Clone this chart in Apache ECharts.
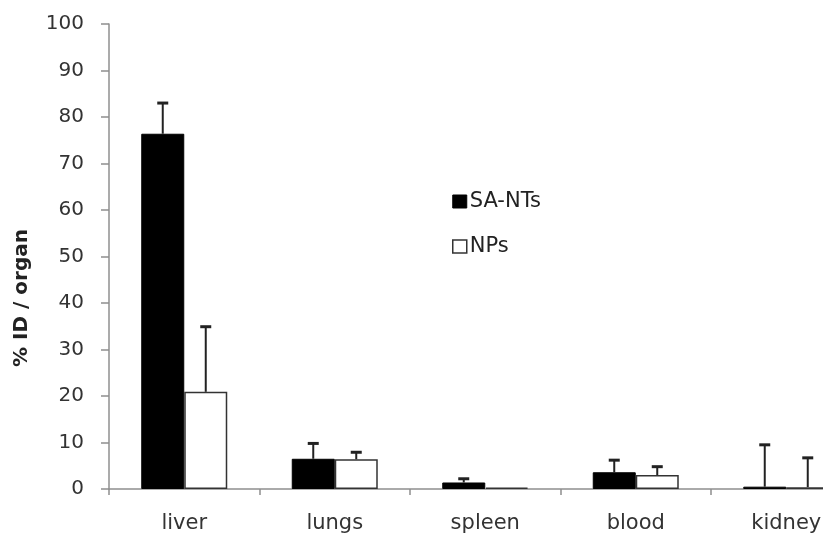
<!DOCTYPE html>
<html>
<head>
<meta charset="utf-8">
<script src="https://cdn.jsdelivr.net/npm/echarts@6/dist/echarts.min.js"></script>
<style>
  html, body { margin: 0; padding: 0; background: #fff; overflow: hidden; }
  #chart { width: 823px; height: 535px; }
</style>
</head>
<body>
<div id="chart"></div>
<script>
const categories = ['liver', 'lungs', 'spleen', 'blood', 'kidney'];
const seriesNames = ['SA-NTs', 'NPs'];
const saNTs = [76.4, 6.5, 1.4, 3.6, 0.5];
const saNTsErr = [6.6, 3.3, 0.8, 2.6, 9.0];
const nps = [20.9, 6.4, 0.3, 3.0, 0.4];
const npsErr = [14.0, 1.5, 0, 1.8, 6.3];
const yTicks = [0, 10, 20, 30, 40, 50, 60, 70, 80, 90, 100];

const BAR_W = 43;
const FONT = 'DejaVu Sans';

function errData(vals, errs) {
  return vals.map((v, i) => [i, v, v + errs[i]]);
}

function makeErrRender(offset) {
  return function (params, api) {
    const err = api.value(2) - api.value(1);
    if (err <= 0) return null;
    const lo = api.coord([api.value(0), api.value(1)]);
    const hi = api.coord([api.value(0), api.value(2)]);
    const x = lo[0] + offset;
    const capHalf = 5.5;
    return {
      type: 'group',
      children: [
        { type: 'line', shape: { x1: x, y1: lo[1], x2: x, y2: hi[1] },
          style: { stroke: '#222', lineWidth: 2 } },
        { type: 'line', shape: { x1: x - capHalf, y1: hi[1], x2: x + capHalf, y2: hi[1] },
          style: { stroke: '#222', lineWidth: 3 } }
      ]
    };
  };
}

const chart = echarts.init(document.getElementById('chart'), null, { renderer: 'canvas' });
chart.setOption({
  animation: false,
  backgroundColor: '#fff',
  grid: { left: 109, width: 752.5, top: 24, height: 465, containLabel: false, outerBoundsMode: 'none' },
  legend: {
    orient: 'vertical',
    left: 447,
    top: 186,
    itemWidth: 14,
    itemHeight: 13,
    itemGap: 24,
    icon: 'rect',
    textStyle: { fontFamily: FONT, fontSize: 21, color: '#222', padding: [0, 0, 0, -2] },
    data: [
      { name: seriesNames[0], itemStyle: { color: '#000', borderColor: '#000', borderWidth: 1 } },
      { name: seriesNames[1], itemStyle: { color: '#fff', borderColor: '#333', borderWidth: 1.5 } }
    ]
  },
  xAxis: {
    type: 'category',
    data: categories,
    axisLine: { show: true, lineStyle: { color: '#8f8f8f', width: 1.5 } },
    axisTick: { show: true, length: 6, lineStyle: { color: '#8f8f8f', width: 1.5 } },
    axisLabel: { fontFamily: FONT, fontSize: 21, color: '#333', margin: 24 },
    splitLine: { show: false }
  },
  yAxis: {
    type: 'value',
    min: yTicks[0],
    max: yTicks[yTicks.length - 1],
    interval: 10,
    axisLine: { show: true, lineStyle: { color: '#8f8f8f', width: 1.5 } },
    axisTick: { show: true, length: 8, lineStyle: { color: '#8f8f8f', width: 1.5 } },
    axisLabel: { fontFamily: FONT, fontSize: 20, color: '#333', margin: 25 },
    splitLine: { show: false }
  },
  graphic: [{
    type: 'text',
    x: 22,
    y: 298,
    rotation: Math.PI / 2,
    style: {
      text: '% ID / organ',
      fontFamily: FONT,
      fontWeight: 'bold',
      fontSize: 20,
      fill: '#222',
      align: 'center',
      verticalAlign: 'middle'
    }
  }],
  series: [
    {
      name: seriesNames[0],
      type: 'bar',
      data: saNTs,
      barWidth: BAR_W,
      barGap: '0%',
      itemStyle: { color: '#000', borderColor: '#000', borderWidth: 1 }
    },
    {
      name: seriesNames[1],
      type: 'bar',
      data: nps,
      barWidth: BAR_W,
      barGap: '0%',
      itemStyle: { color: '#fff', borderColor: '#333', borderWidth: 1.5 }
    },
    {
      name: 'SA-NTs error',
      type: 'custom',
      data: errData(saNTs, saNTsErr),
      renderItem: makeErrRender(-BAR_W / 2),
      encode: { x: 0, y: [1, 2] },
      z: 5
    },
    {
      name: 'NPs error',
      type: 'custom',
      data: errData(nps, npsErr),
      renderItem: makeErrRender(BAR_W / 2),
      encode: { x: 0, y: [1, 2] },
      z: 5
    }
  ]
});
</script>
</body>
</html>
